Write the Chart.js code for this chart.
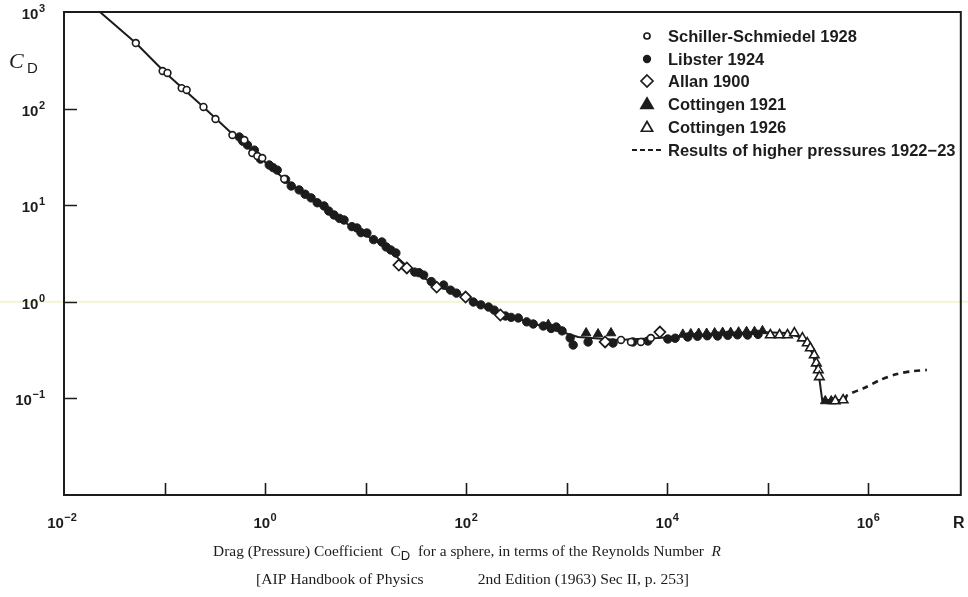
<!DOCTYPE html>
<html>
<head>
<meta charset="utf-8">
<script src="https://cdn.jsdelivr.net/npm/chart.js@4.4.1/dist/chart.umd.min.js"></script>
<style>
  html, body { margin: 0; padding: 0; background: #ffffff; }
  #wrap { width: 968px; height: 597px; position: relative; }
</style>
</head>
<body>
<div id="wrap"><canvas id="c" width="968" height="597"></canvas></div>
<script>
// ---------- data ----------
// Reynolds numbers R and drag coefficients C_D
const curveR  = [0.0228, 0.0518, 0.1, 0.239, 0.473, 0.876, 1.55, 3.44, 6.82, 15.9, 26.9, 50.9, 98.7, 209, 522, 1300, 3240, 8070, 20100, 79000, 157000, 221000, 277000, 325000, 348000, 589000];
const curveCD = [1000, 477, 239, 106, 54.6, 31.6, 18.7, 10.0, 6.24, 3.69, 2.24, 1.46, 1.15, 0.766, 0.575, 0.433, 0.403, 0.422, 0.453, 0.486, 0.475, 0.422, 0.295, 0.163, 0.096, 0.096];

const dashR  = [589000, 617000, 909000, 1310000, 1930000, 2840000, 3830000];
const dashCD = [0.096, 0.108, 0.128, 0.155, 0.179, 0.192, 0.197];

const schillerR  = [0.0518, 0.0957, 0.107, 0.148, 0.166, 0.244, 0.321, 0.473, 0.622, 0.746, 0.838, 0.938, 1.55, 3470, 4360, 5470, 6870];
const schillerCD = [477, 245, 234, 163, 156, 104, 78, 53.3, 47.3, 34.7, 32.3, 30.8, 18.7, 0.403, 0.384, 0.384, 0.422];

const libsterR  = [0.555, 0.60, 0.667, 0.782, 0.90, 1.10, 1.20, 1.32, 1.60, 1.82, 2.18, 2.50, 2.87, 3.30, 3.86, 4.30, 4.85, 5.50, 6.10, 7.30, 8.20, 9.0, 10.3, 12.0, 14.5, 16.0, 17.8, 20.0, 30.8, 34.0, 37.8, 45.0, 59.7, 70.0, 80.0, 118, 140, 167, 190, 246, 280, 330, 400, 465, 585, 700, 787, 900, 1083, 1160, 1633, 2890, 4560, 6430, 10140, 12000, 16000, 20000, 25000, 31700, 40000, 50000, 63000, 80000];
const libsterCD = [50.8, 46.0, 42.0, 37.2, 30.0, 26.1, 24.5, 23.1, 18.5, 15.8, 14.4, 13.0, 11.9, 10.6, 9.82, 8.7, 7.92, 7.3, 7.03, 6.0, 5.81, 5.2, 5.15, 4.4, 4.16, 3.7, 3.44, 3.2, 2.03, 2.0, 1.89, 1.62, 1.49, 1.32, 1.23, 0.995, 0.93, 0.883, 0.82, 0.713, 0.69, 0.680, 0.62, 0.589, 0.562, 0.53, 0.548, 0.50, 0.422, 0.357, 0.384, 0.374, 0.384, 0.393, 0.412, 0.42, 0.432, 0.44, 0.445, 0.443, 0.45, 0.455, 0.453, 0.46];

const allanR  = [21.4, 25.7, 50.9, 98.7, 219, 2410, 8450];
const allanCD = [2.40, 2.24, 1.42, 1.12, 0.73, 0.384, 0.486];

const gott21R  = [656, 1560, 2050, 2760, 14290, 17140, 20560, 24660, 29630, 35560, 42760, 51290, 61520, 73790, 88530, 373000, 428000];
const gott21CD = [0.58, 0.475, 0.464, 0.475, 0.46, 0.465, 0.47, 0.47, 0.475, 0.48, 0.48, 0.485, 0.49, 0.49, 0.50, 0.094, 0.094];

const gott26R  = [106000, 131000, 157000, 184000, 221000, 247000, 265000, 290000, 304000, 318000, 326000, 469000, 562000];
const gott26CD = [0.453, 0.453, 0.453, 0.475, 0.421, 0.374, 0.332, 0.281, 0.232, 0.197, 0.167, 0.094, 0.0962];

const legendNames = ["Schiller-Schmiedel 1928", "Libster 1924", "Allan 1900", "Cottingen 1921", "Cottingen 1926", "Results of higher pressures 1922\u221223"];
const xTickMarkExps  = [-1, 0, 1, 2, 3, 4, 5, 6];
const xTickLabelExps = [-2, 0, 2, 4, 6];
const yTickMarkExps  = [-1, 0, 1, 2];
const yTickLabelExps = [-1, 0, 1, 2, 3];
const captionLine1 = ["Drag (Pressure) Coefficient  C", "D", "  for a sphere, in terms of the Reynolds Number  ", "R"];
const captionLine2 = ["[AIP Handbook of Physics", "2nd Edition (1963) Sec II, p. 253]"];

// ---------- helpers ----------
const INK = '#1c1c1c';
const SANS = '"Liberation Sans", Arial, sans-serif';
const SERIF = '"Liberation Serif", "Times New Roman", serif';
const pts = (xs, ys) => xs.map((v, i) => ({ x: v, y: ys[i] }));
const supText = (e) => (e < 0 ? '\u2212' + Math.abs(e) : String(e));

function drawMark(ctx, style, x, y, r, filled) {
  ctx.save();
  ctx.beginPath();
  if (style === 'circle') {
    ctx.arc(x, y, r, 0, Math.PI * 2);
  } else if (style === 'diamond') {
    ctx.moveTo(x, y - r); ctx.lineTo(x + r, y); ctx.lineTo(x, y + r); ctx.lineTo(x - r, y); ctx.closePath();
  } else if (style === 'triangle') {
    ctx.moveTo(x, y - r); ctx.lineTo(x + r * 0.866, y + r * 0.5); ctx.lineTo(x - r * 0.866, y + r * 0.5); ctx.closePath();
  }
  ctx.fillStyle = filled ? INK : '#ffffff';
  ctx.fill();
  ctx.lineWidth = 1.7;
  ctx.strokeStyle = INK;
  ctx.stroke();
  ctx.restore();
}

function powerLabel(ctx, exp, x, y, align) {
  const base = '10', sup = supText(exp);
  ctx.font = 'bold 15px ' + SANS;
  const wb = ctx.measureText(base).width;
  ctx.font = 'bold 11px ' + SANS;
  const ws = ctx.measureText(sup).width;
  const total = wb + ws + 0.5;
  let x0 = align === 'right' ? x - total : x - total / 2;
  ctx.textAlign = 'left';
  ctx.textBaseline = 'alphabetic';
  ctx.fillStyle = INK;
  ctx.font = 'bold 15px ' + SANS;
  ctx.fillText(base, x0, y);
  ctx.font = 'bold 11px ' + SANS;
  ctx.fillText(sup, x0 + wb + 0.5, y - 7);
}

const decorPlugin = {
  id: 'decor',
  beforeDraw(chart) {
    const ctx = chart.ctx, ys = chart.scales.y;
    ctx.save();
    // faint scan line at C_D = 1
    const p = ys.getPixelForValue(1);
    ctx.strokeStyle = 'rgba(240,240,195,0.7)';
    ctx.lineWidth = 2;
    ctx.beginPath(); ctx.moveTo(0, p); ctx.lineTo(chart.width, p); ctx.stroke();
    ctx.restore();
  },
  afterDraw(chart) {
    const ctx = chart.ctx;
    const { left, right, top, bottom } = chart.chartArea;
    const xs = chart.scales.x, ys = chart.scales.y;
    ctx.save();
    // frame
    ctx.strokeStyle = INK;
    ctx.lineWidth = 2;
    ctx.strokeRect(left, top, right - left, bottom - top);
    // inward tick marks
    ctx.lineWidth = 1.6;
    ctx.beginPath();
    xTickMarkExps.forEach(e => {
      const px = Math.round(xs.getPixelForValue(Math.pow(10, e))) + 0.5;
      ctx.moveTo(px, bottom); ctx.lineTo(px, bottom - 12);
    });
    yTickMarkExps.forEach(e => {
      const py = Math.round(ys.getPixelForValue(Math.pow(10, e))) + 0.5;
      ctx.moveTo(left, py); ctx.lineTo(left + 13, py);
    });
    ctx.stroke();
    // tick labels
    xTickLabelExps.forEach(e => {
      const px = xs.getPixelForValue(Math.pow(10, e));
      powerLabel(ctx, e, e === -2 ? px - 2 : px, bottom + 33, 'center');
    });
    yTickLabelExps.forEach(e => {
      const py = ys.getPixelForValue(Math.pow(10, e));
      powerLabel(ctx, e, left - 19, py + 7, 'right');
    });
    // axis titles
    ctx.fillStyle = INK;
    ctx.textAlign = 'left';
    ctx.font = 'italic 22px ' + SERIF;
    ctx.fillText('C', 9, 68);
    ctx.font = '15px ' + SANS;
    ctx.fillText('D', 27, 73);
    ctx.font = 'bold 16px ' + SANS;
    ctx.fillText('R', 953, 528);

    // legend
    const lx = 647, tx = 668;
    const rows = [36, 59, 81, 104, 127, 150];
    drawMark(ctx, 'circle', lx, rows[0], 3, false);
    drawMark(ctx, 'circle', lx, rows[1], 3.3, true);
    drawMark(ctx, 'diamond', lx, rows[2], 6, false);
    drawMark(ctx, 'triangle', lx, rows[3] + 1, 7, true);
    drawMark(ctx, 'triangle', lx, rows[4] + 1, 6.5, false);
    ctx.save();
    ctx.strokeStyle = INK; ctx.lineWidth = 2; ctx.setLineDash([5, 3]);
    ctx.beginPath(); ctx.moveTo(632, rows[5]); ctx.lineTo(661, rows[5]); ctx.stroke();
    ctx.restore();
    ctx.fillStyle = INK;
    ctx.font = 'bold 16.5px ' + SANS;
    ctx.textBaseline = 'middle';
    legendNames.forEach((n, i) => ctx.fillText(n, tx, rows[i] + 1));
    ctx.textBaseline = 'alphabetic';

    // captions
    const serif = '15.4px ' + SERIF;
    const segs = [
      { t: captionLine1[0], f: serif, dy: 0 },
      { t: captionLine1[1], f: '13px ' + SANS, dy: 4 },
      { t: captionLine1[2], f: serif, dy: 0 },
      { t: captionLine1[3], f: 'italic 15.4px ' + SERIF, dy: 0 }
    ];
    let tot = 0;
    segs.forEach(s => { ctx.font = s.f; s.w = ctx.measureText(s.t).width; tot += s.w; });
    let cx = 467 - tot / 2;
    segs.forEach(s => { ctx.font = s.f; ctx.fillText(s.t, cx, 556 + s.dy); cx += s.w; });
    ctx.font = '15.6px ' + SERIF;
    ctx.textAlign = 'left';
    ctx.fillText(captionLine2[0], 256, 584);
    ctx.textAlign = 'right';
    ctx.fillText(captionLine2[1], 689, 584);
    ctx.restore();
  }
};

const markerBase = { showLine: false, pointBorderColor: INK, pointHoverRadius: 0 };

new Chart(document.getElementById('c'), {
  type: 'scatter',
  data: {
    datasets: [
      Object.assign({}, markerBase, { label: legendNames[0], data: pts(schillerR, schillerCD), pointStyle: 'circle', pointRadius: 3.4, pointBackgroundColor: '#ffffff', pointBorderWidth: 1.6, order: 1 }),
      Object.assign({}, markerBase, { label: legendNames[2], data: pts(allanR, allanCD), pointStyle: 'rectRot', pointRadius: 5.5, pointBackgroundColor: '#ffffff', pointBorderWidth: 1.7, order: 2 }),
      Object.assign({}, markerBase, { label: legendNames[4], data: pts(gott26R, gott26CD), pointStyle: 'triangle', pointRadius: 5.5, pointBackgroundColor: '#ffffff', pointBorderWidth: 1.6, order: 3 }),
      Object.assign({}, markerBase, { label: legendNames[3], data: pts(gott21R, gott21CD), pointStyle: 'triangle', pointRadius: 5.5, pointBackgroundColor: INK, pointBorderWidth: 1, order: 4 }),
      Object.assign({}, markerBase, { label: legendNames[1], data: pts(libsterR, libsterCD), pointStyle: 'circle', pointRadius: 4.2, pointBackgroundColor: INK, pointBorderWidth: 1, order: 5 }),
      { label: 'curve', data: pts(curveR, curveCD), showLine: true, borderColor: INK, borderWidth: 2, pointRadius: 0, tension: 0, order: 10 },
      { label: legendNames[5], data: pts(dashR, dashCD), showLine: true, borderColor: INK, borderWidth: 2.6, borderDash: [6, 5], pointRadius: 0, tension: 0.3, order: 11 }
    ]
  },
  options: {
    responsive: false,
    animation: false,
    devicePixelRatio: 1,
    events: [],
    layout: { padding: { left: 64, top: 12, right: 4, bottom: 102 } },
    plugins: { legend: { display: false }, tooltip: { enabled: false } },
    scales: {
      x: { type: 'logarithmic', min: 0.01, max: Math.pow(10, 6.92), display: false },
      y: { type: 'logarithmic', min: 0.01, max: 1000, display: false }
    }
  },
  plugins: [decorPlugin]
});
</script>
</body>
</html>
